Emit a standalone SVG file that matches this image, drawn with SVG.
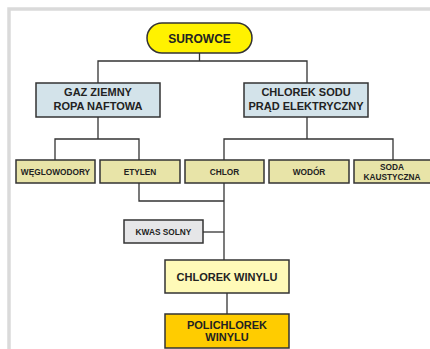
<svg xmlns="http://www.w3.org/2000/svg" width="430" height="349" viewBox="0 0 430 349">
<style>
.box{stroke:#333;stroke-width:1.5}
.t{font-family:"Liberation Sans",Arial,sans-serif;font-weight:bold;fill:#222;text-anchor:middle}
.s8{font-size:8.3px}
.s11{font-size:11px}
.s12{font-size:12px}
.con{fill:none;stroke:#333;stroke-width:1.3}
</style>
<rect width="430" height="349" fill="#fff"/>
<path d="M9 349V9H430" fill="none" stroke="#dadada" stroke-width="3.5"/>
<g id="connectors" class="con">
<path d="M199.5 53V61M98 83V61H307V83"/>
<path d="M98 117V139M55 160V139H139V160"/>
<path d="M307 117V139M224 160V139H393V160"/>
<path d="M139 183V201H224"/>
<path d="M224 183V260"/>
<path d="M203 232H224"/>
<path d="M227 293V314"/>
</g>
<g id="surowce"><rect class="box" x="147" y="23" width="105" height="30" rx="15" fill="#fff200"/><text class="t s12" x="199.5" y="42.5">SUROWCE</text></g>
<g id="gaz"><rect class="box" x="36" y="83" width="124" height="34" fill="#d3e3ea"/><text class="t s11" x="98" y="96">GAZ ZIEMNY</text><text class="t s11" x="98" y="109.5">ROPA NAFTOWA</text></g>
<g id="chlorek-sodu"><rect class="box" x="244" y="83" width="124" height="34" fill="#d3e3ea"/><text class="t s11" x="306" y="96">CHLOREK SODU</text><text class="t s11" x="306" y="109.5">PRĄD ELEKTRYCZNY</text></g>
<g id="weglowodory"><rect class="box" x="16" y="160" width="79" height="23" fill="#e8e4a8"/><text class="t s8" x="55.5" y="175">WĘGLOWODORY</text></g>
<g id="etylen"><rect class="box" x="100" y="160" width="80" height="23" fill="#e8e4a8"/><text class="t s8" x="140" y="175">ETYLEN</text></g>
<g id="chlor"><rect class="box" x="185" y="160" width="79" height="23" fill="#e8e4a8"/><text class="t s8" x="224.5" y="175">CHLOR</text></g>
<g id="wodor"><rect class="box" x="269" y="160" width="80" height="23" fill="#e8e4a8"/><text class="t s8" x="309" y="175">WODÓR</text></g>
<g id="soda"><rect class="box" x="354" y="160" width="77" height="23" fill="#e8e4a8"/><text class="t s8" x="392" y="169.5">SODA</text><text class="t s8" x="392" y="179.5">KAUSTYCZNA</text></g>
<g id="kwas"><rect class="box" x="124" y="220" width="79" height="23" fill="#e6e6e8"/><text class="t s8" x="163.5" y="234.5" fill="#333">KWAS SOLNY</text></g>
<g id="chlorek-winylu"><rect class="box" x="165" y="260" width="124" height="33" fill="#fffab8"/><text class="t s11" x="227" y="280.5">CHLOREK WINYLU</text></g>
<g id="polichlorek"><rect class="box" x="165" y="314" width="124" height="34" fill="#ffcc00"/><text class="t s11" x="227" y="329">POLICHLOREK</text><text class="t s11" x="227" y="341">WINYLU</text></g>
</svg>
